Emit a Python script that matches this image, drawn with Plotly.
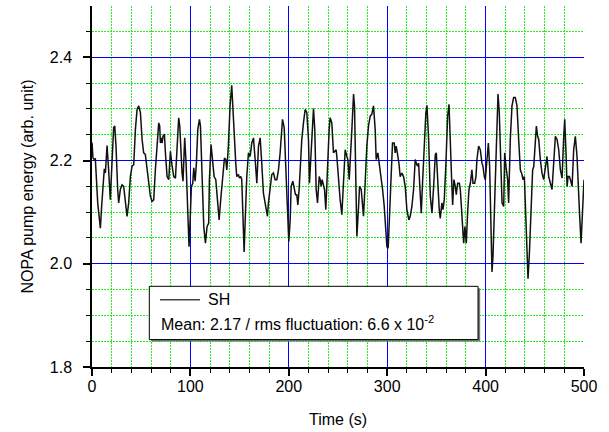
import plotly.graph_objects as go

# Time (s) and NOPA pump energy (arb. unit), in four segments
time_a = [0, 1.0, 2.4, 3.4, 5.8, 6.8, 8.5, 9.8, 11.2, 12.5, 13.6, 15.3, 16.9, 18.6, 20.3, 22.0, 23.1,
          24.4, 26.1, 27.1, 28.8, 30.5, 32.2, 33.9, 35.6, 37.3, 39.0, 40.7, 42.4, 44.1, 45.8, 47.5,
          49.2, 50.9, 52.5, 54.2, 55.9, 57.6, 59.3, 61.0, 62.7, 64.4, 66.1, 67.8, 68.8, 69.5, 70.5,
          71.2, 72.2, 73.6, 74.6, 76.3, 78.0, 79.7, 81.4, 83.1, 84.8, 86.4, 88.1, 89.2, 90.5, 91.5,
          92.5, 94.2, 95.6, 97.3, 98.6, 100.0, 101.0, 102.4, 103.4, 104.8, 106.1, 107.5, 109.2,
          110.2, 111.9, 113.6, 115.3, 116.9, 118.6]
energy_a = [2.235, 2.205, 2.202, 2.203, 2.118, 2.098, 2.069, 2.111, 2.163, 2.184, 2.176, 2.229, 2.182,
            2.124, 2.195, 2.264, 2.267, 2.228, 2.144, 2.118, 2.144, 2.153, 2.150, 2.118, 2.092, 2.118,
            2.169, 2.189, 2.192, 2.260, 2.299, 2.306, 2.293, 2.241, 2.215, 2.212, 2.182, 2.150, 2.131,
            2.121, 2.124, 2.182, 2.228, 2.273, 2.267, 2.234, 2.244, 2.234, 2.247, 2.251, 2.215, 2.169,
            2.163, 2.218, 2.189, 2.169, 2.166, 2.215, 2.283, 2.267, 2.208, 2.176, 2.160, 2.244, 2.195,
            2.111, 2.033, 2.098, 2.150, 2.156, 2.186, 2.160, 2.195, 2.260, 2.280, 2.267, 2.169, 2.072,
            2.040, 2.072, 2.079]

time_b = [119.3, 121.0, 122.7, 124.1, 125.8, 127.5, 129.2, 130.8, 132.9, 134.6, 135.9, 137.0, 138.6,
          140.3, 142.0, 143.7, 144.7, 146.1, 147.1, 148.8, 149.8, 151.2, 152.2, 153.2, 154.6, 155.6,
          157.3, 159.0, 160.7, 162.4, 164.1, 165.8, 167.5, 169.2, 170.9, 172.5, 174.2, 175.9, 177.0,
          178.3, 179.3, 181.0, 182.7, 184.4, 186.1, 187.8, 189.5, 191.2, 192.2, 193.6, 195.3, 196.6,
          198.0, 199.0, 200.0, 201.4, 202.4, 204.1, 205.4, 206.8, 208.1, 209.2, 210.5, 211.5, 213.2,
          214.9, 216.6, 218.3, 220.0, 221.0]
energy_b = [2.163, 2.231, 2.202, 2.169, 2.163, 2.131, 2.085, 2.124, 2.163, 2.205, 2.202, 2.182, 2.228,
            2.306, 2.346, 2.273, 2.228, 2.195, 2.169, 2.173, 2.166, 2.169, 2.163, 2.098, 2.023, 2.079,
            2.169, 2.215, 2.208, 2.234, 2.244, 2.202, 2.156, 2.228, 2.244, 2.195, 2.137, 2.118, 2.101,
            2.092, 2.118, 2.150, 2.173, 2.176, 2.163, 2.163, 2.182, 2.215, 2.254, 2.280, 2.264, 2.195,
            2.111, 2.059, 2.043, 2.085, 2.150, 2.160, 2.150, 2.134, 2.134, 2.114, 2.144, 2.182, 2.241,
            2.273, 2.299, 2.293, 2.241, 2.156]

time_c = [223.4, 225.1, 226.4, 227.8, 229.2, 230.9, 231.9, 232.9, 233.9, 235.3, 236.3, 237.6, 239.3,
          241.0, 242.0, 243.7, 245.4, 247.1, 248.1, 248.8, 250.5, 252.2, 253.9, 255.6, 257.3, 259.0,
          260.0, 261.4, 262.4, 264.1, 265.8, 266.8, 268.1, 269.2, 270.9, 271.9, 273.6, 274.9, 275.9,
          277.6, 279.3, 281.0, 282.7, 284.4, 286.1, 287.8, 288.8, 290.5, 291.9, 293.6, 295.3, 297.0,
          298.3, 299.7, 301.0, 302.4, 303.7, 305.4, 307.1, 308.1, 309.2, 310.5, 311.9, 313.2, 314.9,
          316.6, 318.3, 320.0, 322.0, 323.4, 325.1, 326.8, 328.5, 329.5, 330.9, 331.9, 333.6, 334.6,
          335.9, 337.6, 339.3]
energy_c = [2.241, 2.301, 2.260, 2.144, 2.118, 2.169, 2.163, 2.150, 2.163, 2.150, 2.144, 2.105, 2.195,
            2.260, 2.283, 2.273, 2.215, 2.218, 2.221, 2.208, 2.163, 2.124, 2.095, 2.169, 2.221, 2.208,
            2.202, 2.163, 2.195, 2.260, 2.329, 2.306, 2.163, 2.053, 2.111, 2.150, 2.144, 2.111, 2.092,
            2.156, 2.228, 2.267, 2.286, 2.290, 2.306, 2.260, 2.202, 2.215, 2.195, 2.169, 2.144, 2.111,
            2.066, 2.033, 2.030, 2.098, 2.163, 2.234, 2.234, 2.215, 2.228, 2.215, 2.195, 2.169, 2.176,
            2.169, 2.150, 2.105, 2.085, 2.092, 2.111, 2.144, 2.202, 2.195, 2.189, 2.195, 2.144, 2.098,
            2.156, 2.228, 2.293]

time_d = [340.4, 342.1, 343.8, 345.5, 347.2, 348.9, 349.9, 351.2, 352.9, 353.9, 355.6, 356.7, 358.0,
          359.7, 361.4, 362.8, 364.1, 365.5, 366.5, 367.8, 369.2, 370.2, 371.6, 373.3, 374.3, 376.0,
          377.7, 379.0, 380.4, 381.7, 383.1, 384.5, 386.1, 387.2, 388.9, 390.2, 391.2, 392.9, 394.6,
          396.3, 397.3, 398.7, 399.7, 401.4, 402.8, 404.1, 405.5, 406.5, 407.5, 408.9, 410.2, 411.6,
          412.6, 413.9, 415.6, 416.7, 418.4, 419.4, 420.7, 422.4, 423.4, 425.1, 426.8, 428.5, 430.2,
          431.9, 433.6, 435.3, 437.0, 438.0, 439.4, 440.7, 442.1, 443.1, 444.5, 446.1, 447.8, 448.9,
          449.9, 451.6, 452.9, 454.0, 455.6, 457.3, 459.0, 460.7, 462.4, 464.1, 465.8, 467.5, 469.2,
          470.9, 472.6, 474.3, 476.0, 477.7, 479.4, 480.4, 481.7, 482.8, 483.8, 485.1, 486.2, 487.9,
          489.5, 491.2, 492.9, 494.6, 495.6, 497.0, 498.4, 499.7, 500.0]
energy_d = [2.307, 2.241, 2.131, 2.098, 2.150, 2.212, 2.215, 2.163, 2.105, 2.088, 2.118, 2.105, 2.124,
            2.195, 2.286, 2.309, 2.254, 2.163, 2.114, 2.163, 2.150, 2.134, 2.156, 2.156, 2.144, 2.098,
            2.040, 2.072, 2.040, 2.098, 2.144, 2.156, 2.182, 2.156, 2.156, 2.169, 2.202, 2.228, 2.221,
            2.195, 2.189, 2.169, 2.163, 2.202, 2.234, 2.189, 2.053, 1.984, 2.014, 2.098, 2.195, 2.299,
            2.329, 2.293, 2.195, 2.118, 2.111, 2.215, 2.189, 2.163, 2.118, 2.241, 2.306, 2.322, 2.322,
            2.306, 2.241, 2.182, 2.173, 2.163, 2.169, 2.098, 2.020, 1.971, 2.020, 2.098, 2.182, 2.188,
            2.215, 2.267, 2.247, 2.241, 2.202, 2.176, 2.163, 2.189, 2.208, 2.169, 2.156, 2.144, 2.195,
            2.247, 2.241, 2.221, 2.182, 2.166, 2.247, 2.280, 2.215, 2.150, 2.169, 2.169, 2.163, 2.150,
            2.221, 2.247, 2.208, 2.150, 2.092, 2.040, 2.098, 2.156, 2.163]

series_name = "SH"
stats_text = "Mean: 2.17 / rms fluctuation: 6.6 x 10<sup>-2</sup>"
x_title = "Time (s)"
y_title = "NOPA pump energy (arb. unit)"
x_ticks = [0, 100, 200, 300, 400, 500]
y_ticks = [1.8, 2.0, 2.2, 2.4]

time_all = time_a + time_b + time_c + time_d
energy_all = energy_a + energy_b + energy_c + energy_d

FONT = "Liberation Sans, Arial, sans-serif"

fig = go.Figure()
fig.add_trace(go.Scatter(x=time_all, y=energy_all, mode="lines",
                         line=dict(color="#111111", width=1.5), name=series_name,
                         showlegend=False))

axis_common = dict(
    showline=True, linecolor="black", linewidth=1.5,
    ticks="outside", ticklen=7, tickwidth=1.5, tickcolor="black",
    showgrid=True, gridcolor="#0000ff", gridwidth=1,
    zeroline=False, mirror=False,
    tickfont=dict(family=FONT, size=16, color="black"),
)

fig.update_xaxes(
    range=[0, 500], tickvals=x_ticks, ticklabelstandoff=-3,
    minor=dict(dtick=20, tick0=0, ticks="outside", ticklen=4, tickwidth=1, tickcolor="black",
               showgrid=True, gridcolor="#22ee22", gridwidth=1, griddash="2px,1px"),
    **axis_common)
fig.update_yaxes(
    range=[1.8, 2.4995], tickvals=y_ticks, tickformat=".1f", ticklabelstandoff=8,
    minor=dict(dtick=0.05, tick0=1.8, ticks="outside", ticklen=4, tickwidth=1, tickcolor="black",
               showgrid=True, gridcolor="#22ee22", gridwidth=1, griddash="2px,1px"),
    **axis_common)

# legend box drawn in paper coordinates
shapes = [
    dict(type="rect", xref="paper", yref="paper", x0=0.1205, x1=0.7890, y0=0.0705, y1=0.2180,
         line=dict(width=0), fillcolor="#777777", layer="above"),
    dict(type="rect", xref="paper", yref="paper", x0=0.1165, x1=0.7846, y0=0.0760, y1=0.2235,
         line=dict(color="black", width=1), fillcolor="white", layer="above"),
    dict(type="line", xref="paper", yref="paper", x0=0.1382, x1=0.2195, y0=0.1864, y1=0.1864,
         line=dict(color="#444444", width=1.5), layer="above"),
]
fig.update_layout(shapes=shapes)
fig.add_annotation(xref="paper", yref="paper", x=0.2309, y=0.1864, text=series_name,
                   showarrow=False, xanchor="left", yanchor="middle",
                   font=dict(family=FONT, size=16, color="black"))
fig.add_annotation(xref="paper", yref="paper", x=0.137, y=0.1219, text=stats_text,
                   showarrow=False, xanchor="left", yanchor="middle",
                   font=dict(family=FONT, size=16, color="black"))
# axis titles
fig.add_annotation(xref="paper", yref="paper", x=0.5, y=-0.146, text=x_title,
                   showarrow=False, xanchor="center", yanchor="middle",
                   font=dict(family=FONT, size=16, color="black"))
fig.add_annotation(xref="paper", yref="paper", x=-0.1321, y=0.5, text=y_title, textangle=-90,
                   showarrow=False, xanchor="center", yanchor="middle",
                   font=dict(family=FONT, size=16, color="black"))

fig.update_layout(
    width=609, height=432,
    margin=dict(l=92, r=25, t=6, b=65, autoexpand=False),
    plot_bgcolor="white", paper_bgcolor="white",
    font=dict(family=FONT, size=16, color="black"),
    showlegend=False,
)

fig.write_html("out.html", config={"displayModeBar": False},
               post_script="document.body.style.margin='0';document.body.style.overflow='hidden';")
